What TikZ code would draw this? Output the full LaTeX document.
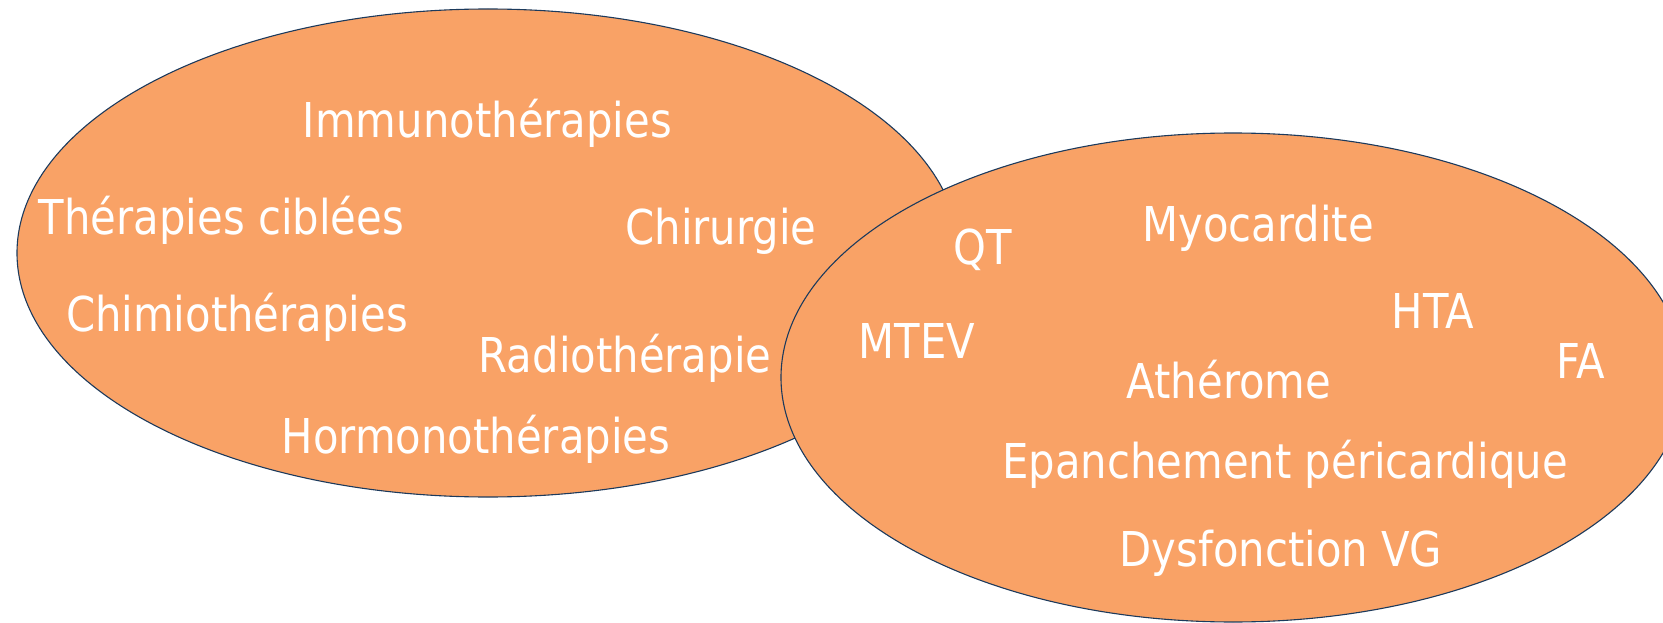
\documentclass[tikz,border=0pt]{standalone}
\usepackage{fontspec}
\setmainfont{DejaVu Sans}[FakeStretch=0.87]
\definecolor{blobfill}{RGB}{249,162,102}
\definecolor{blobline}{RGB}{28,58,92}
\begin{document}
\begin{tikzpicture}[x=1pt,y=-1pt,
  blob/.style={fill=blobfill, draw=blobline, line width=1.1pt},
  lbl/.style={text=white, font=\fontsize{48}{58}\selectfont, anchor=base, inner sep=0pt}]
\useasboundingbox (0,0) rectangle (1663,623);
\clip (0,0) rectangle (1663,623);
\draw[blob] (488,253) ellipse [x radius=471, y radius=244];
\draw[blob] (1233,377.5) ellipse [x radius=452, y radius=244.5];
% left set
\node[lbl] (immuno) at (487.5,138) {Immunothérapies};
\node[lbl] (cibl) at (221.5,234) {Thérapies ciblées};
\node[lbl] (chir) at (721,244) {Chirurgie};
\node[lbl] (chimio) at (237,331) {Chimiothérapies};
\node[lbl] (radio) at (625,372) {Radiothérapie};
\node[lbl] (hormono) at (476,453) {Hormonothérapies};
% right set
\node[lbl] (qt) at (983,264) {QT};
\node[lbl] (myo) at (1258,241) {Myocardite};
\node[lbl] (hta) at (1433,328) {HTA};
\node[lbl] (mtev) at (917,358) {MTEV};
\node[lbl] (fa) at (1581,378) {FA};
\node[lbl] (athe) at (1229,398) {Athérome};
\node[lbl] (epan) at (1285,478) {Epanchement péricardique};
\node[lbl] (dysf) at (1281,566) {Dysfonction VG};
\end{tikzpicture}
\end{document}
